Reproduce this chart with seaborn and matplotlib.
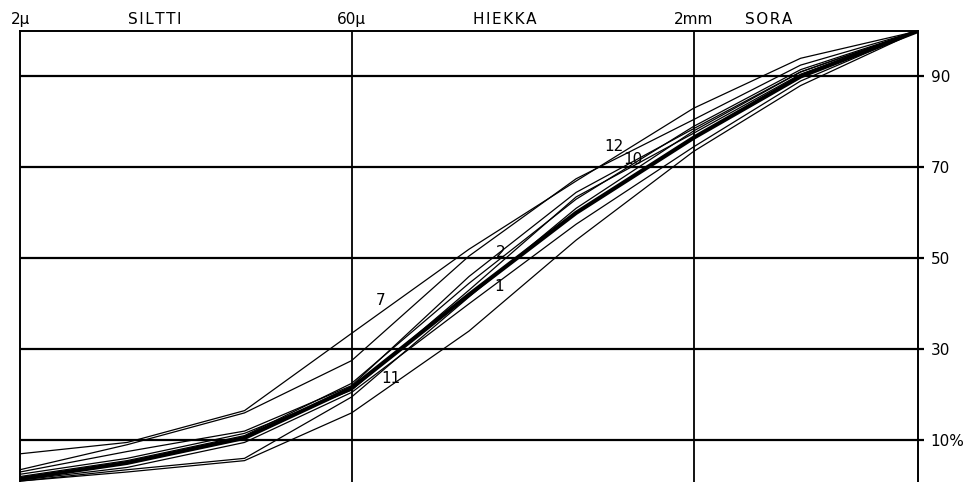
import numpy as np
import pandas as pd
import matplotlib
matplotlib.use("Agg")
import matplotlib.pyplot as plt
import matplotlib.transforms as mtransforms
import seaborn as sns

# Grain sizes (mm) at which the passing percentages are given
sizes_mm = [0.002, 0.006, 0.02, 0.06, 0.2, 0.6, 2, 6, 20]

# Cumulative passing (%) for each sample
curve_1 = [1.5, 5.0, 10.5, 21.5, 42.0, 60.0, 76.5, 90.0, 100]
curve_2 = [2.0, 5.5, 11.0, 22.5, 44.5, 63.0, 79.0, 91.5, 100]
curve_3 = [1.2, 4.0, 9.5, 20.5, 40.0, 57.5, 74.5, 89.0, 100]
curve_4 = [1.0, 3.5, 6.0, 19.5, 41.5, 61.0, 78.0, 91.0, 100]
curve_5 = [3.0, 7.5, 12.0, 22.0, 46.0, 64.5, 78.5, 91.0, 100]
curve_7 = [7.0, 9.5, 16.5, 33.5, 52.0, 67.0, 83.0, 94.0, 100]
curve_10 = [2.5, 6.0, 11.5, 21.0, 43.0, 63.5, 77.5, 90.5, 100]
curve_11 = [1.0, 3.0, 5.5, 16.0, 34.0, 54.0, 73.5, 88.0, 100]
curve_12 = [3.5, 9.0, 16.0, 27.5, 50.5, 67.5, 80.5, 92.5, 100]

samples = {"1": curve_1, "2": curve_2, "3": curve_3, "4": curve_4, "5": curve_5,
           "7": curve_7, "10": curve_10, "11": curve_11, "12": curve_12}
thick_sample = "1"

# Sample numbers written next to the curves: (size mm, percent)
label_pos = {"7": (0.081, 40.8), "2": (0.278, 51.3), "1": (0.272, 43.8),
             "11": (0.090, 23.6), "12": (0.885, 74.6), "10": (1.08, 71.7)}

# Fraction boundaries and names along the top
boundary_sizes = [0.002, 0.06, 2]
boundary_labels = ["2μ", "60μ", "2mm"]
fraction_sizes = [0.0080, 0.29, 4.3]
fraction_names = ["SILTTI", "HIEKKA", "SORA"]

grid_pct = [10, 30, 50, 70, 90]
grid_labels = ["10%", "30", "50", "70", "90"]

sns.set_style("white")
plt.rcParams["font.family"] = ["DejaVu Sans"]

df = pd.concat(
    [pd.DataFrame({"size": sizes_mm, "pct": v, "sample": k}) for k, v in samples.items()],
    ignore_index=True,
)

fig = plt.figure(figsize=(9.63, 4.82), dpi=100)
ax = fig.add_axes([20 / 963, 0.0, 898 / 963, 451 / 482])

for name, sub in df.groupby("sample", sort=False):
    sns.lineplot(data=sub, x="size", y="pct", ax=ax, color="black",
                 linewidth=3.0 if name == thick_sample else 0.9,
                 sort=False, estimator=None, legend=False, zorder=3)

ax.set_xscale("log")
ax.set_xlim(0.002, 20)
ax.set_ylim(0.8, 100)

for p in grid_pct:
    ax.axhline(p, color="black", linewidth=1.6, zorder=2)
for s in boundary_sizes[1:]:
    ax.axvline(s, color="black", linewidth=1.3, zorder=2)

for side in ["left", "top", "right"]:
    ax.spines[side].set_visible(True)
    ax.spines[side].set_linewidth(1.4)
    ax.spines[side].set_color("black")
ax.spines["bottom"].set_visible(False)

ax.set_xticks([])
ax.set_xticks([], minor=True)
ax.set_yticks(grid_pct)
ax.set_yticklabels(grid_labels)
ax.tick_params(axis="y", left=False, labelleft=False, right=True, labelright=True,
               length=4, width=1.6, direction="out", pad=5, labelsize=11,
               colors="black")
ax.set_xlabel("")
ax.set_ylabel("")

trans = mtransforms.blended_transform_factory(ax.transData, ax.transAxes)
top_y = 1 + 7 / 451
for s, t in zip(boundary_sizes, boundary_labels):
    ax.text(s, top_y, t, transform=trans, ha="center", va="baseline",
            fontsize=11, color="black")
for s, t in zip(fraction_sizes, fraction_names):
    ax.text(s, top_y, "\u200a".join(t), transform=trans, ha="center", va="baseline",
            fontsize=11, color="black")

for name, (s, p) in label_pos.items():
    ax.text(s, p, name, ha="center", va="center", fontsize=11, color="black",
            zorder=4)

ax.set_title("")
fig.savefig("out.png", dpi=100, facecolor="white")
